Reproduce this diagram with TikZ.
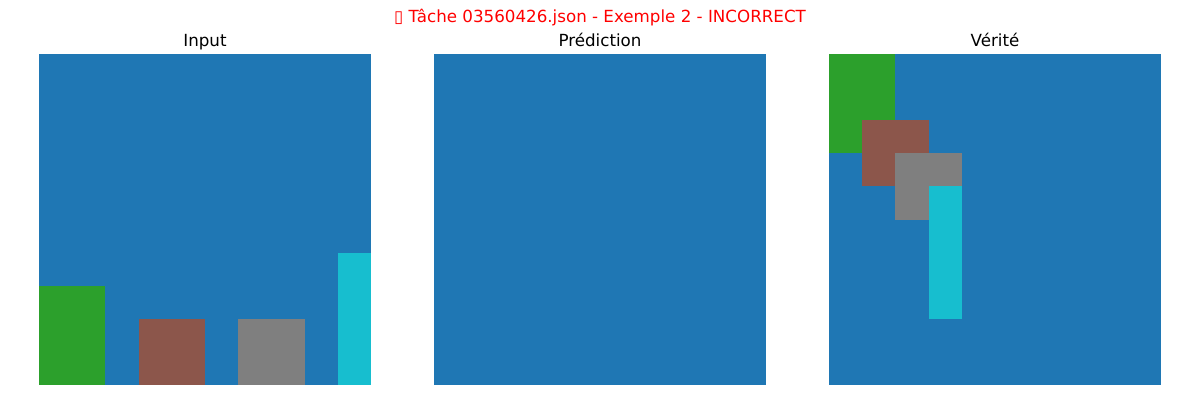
\documentclass[tikz,border=0pt]{standalone}
\usepackage{fontspec}
\setmainfont{DejaVu Sans}
\usetikzlibrary{positioning}
\definecolor{arcblue}{RGB}{31,119,180}
\definecolor{arcgreen}{RGB}{44,160,44}
\definecolor{arcbrown}{RGB}{140,86,75}
\definecolor{arcgray}{RGB}{127,127,127}
\definecolor{arccyan}{RGB}{23,190,207}
\definecolor{titlered}{RGB}{255,0,0}
\newlength{\cw}\setlength{\cw}{33.2pt}
\newlength{\ch}\setlength{\ch}{33.1pt}
\tikzset{
  panel/.style={rectangle, inner sep=0pt, outer sep=0pt, anchor=north west,
    minimum width=10\cw, minimum height=10\ch, fill=arcblue},
  blk/.style={rectangle, inner sep=0pt, outer sep=0pt, anchor=north west},
  paneltitle/.style={font=\fontsize{16.7pt}{18pt}\selectfont, text=black,
    inner sep=0pt, anchor=base},
  maintitle/.style={font=\fontsize{16.7pt}{18pt}\selectfont, text=titlered,
    inner sep=0pt, anchor=base},
}

\begin{document}
\begin{tikzpicture}[x=1pt, y=-1pt]
  \useasboundingbox (0,0) rectangle (1200,400);
  \node[maintitle] (title) at (600,22) {▯ Tâche 03560426.json - Exemple 2 - INCORRECT};

  % the three grids
  \node[panel] (inp) at (39,54) {};
  \node[panel] (pred) at (434,54) {};
  \node[panel] (ver) at (829,54) {};

  \node[paneltitle] (inptitle) at ([yshift=8pt]inp.north) {Input};
  \node[paneltitle] (predtitle) at ([yshift=8pt]pred.north) {Prédiction};
  \node[paneltitle] (vertitle) at ([yshift=8pt]ver.north) {Vérité};

  % input blocks
  \node[blk, fill=arcgreen, minimum width=2\cw, minimum height=3\ch]
    (ingreen) at ([shift={(0pt,-7\ch)}]inp.north west) {};
  \node[blk, fill=arcbrown, minimum width=2\cw, minimum height=2\ch]
    (inbrown) at ([shift={(3\cw,-8\ch)}]inp.north west) {};
  \node[blk, fill=arcgray, minimum width=2\cw, minimum height=2\ch]
    (ingray) at ([shift={(6\cw,-8\ch)}]inp.north west) {};
  \node[blk, fill=arccyan, minimum width=1\cw, minimum height=4\ch]
    (incyan) at ([shift={(9\cw,-6\ch)}]inp.north west) {};

  % expected blocks
  \node[blk, fill=arcgreen, minimum width=2\cw, minimum height=3\ch]
    (vgreen) at (ver.north west) {};
  \node[blk, fill=arcbrown, minimum width=2\cw, minimum height=2\ch]
    (vbrown) at ([shift={(1\cw,-2\ch)}]ver.north west) {};
  \node[blk, fill=arcgray, minimum width=2\cw, minimum height=2\ch]
    (vgray) at ([shift={(2\cw,-3\ch)}]ver.north west) {};
  \node[blk, fill=arccyan, minimum width=1\cw, minimum height=4\ch]
    (vcyan) at ([shift={(3\cw,-4\ch)}]ver.north west) {};
\end{tikzpicture}
\end{document}
